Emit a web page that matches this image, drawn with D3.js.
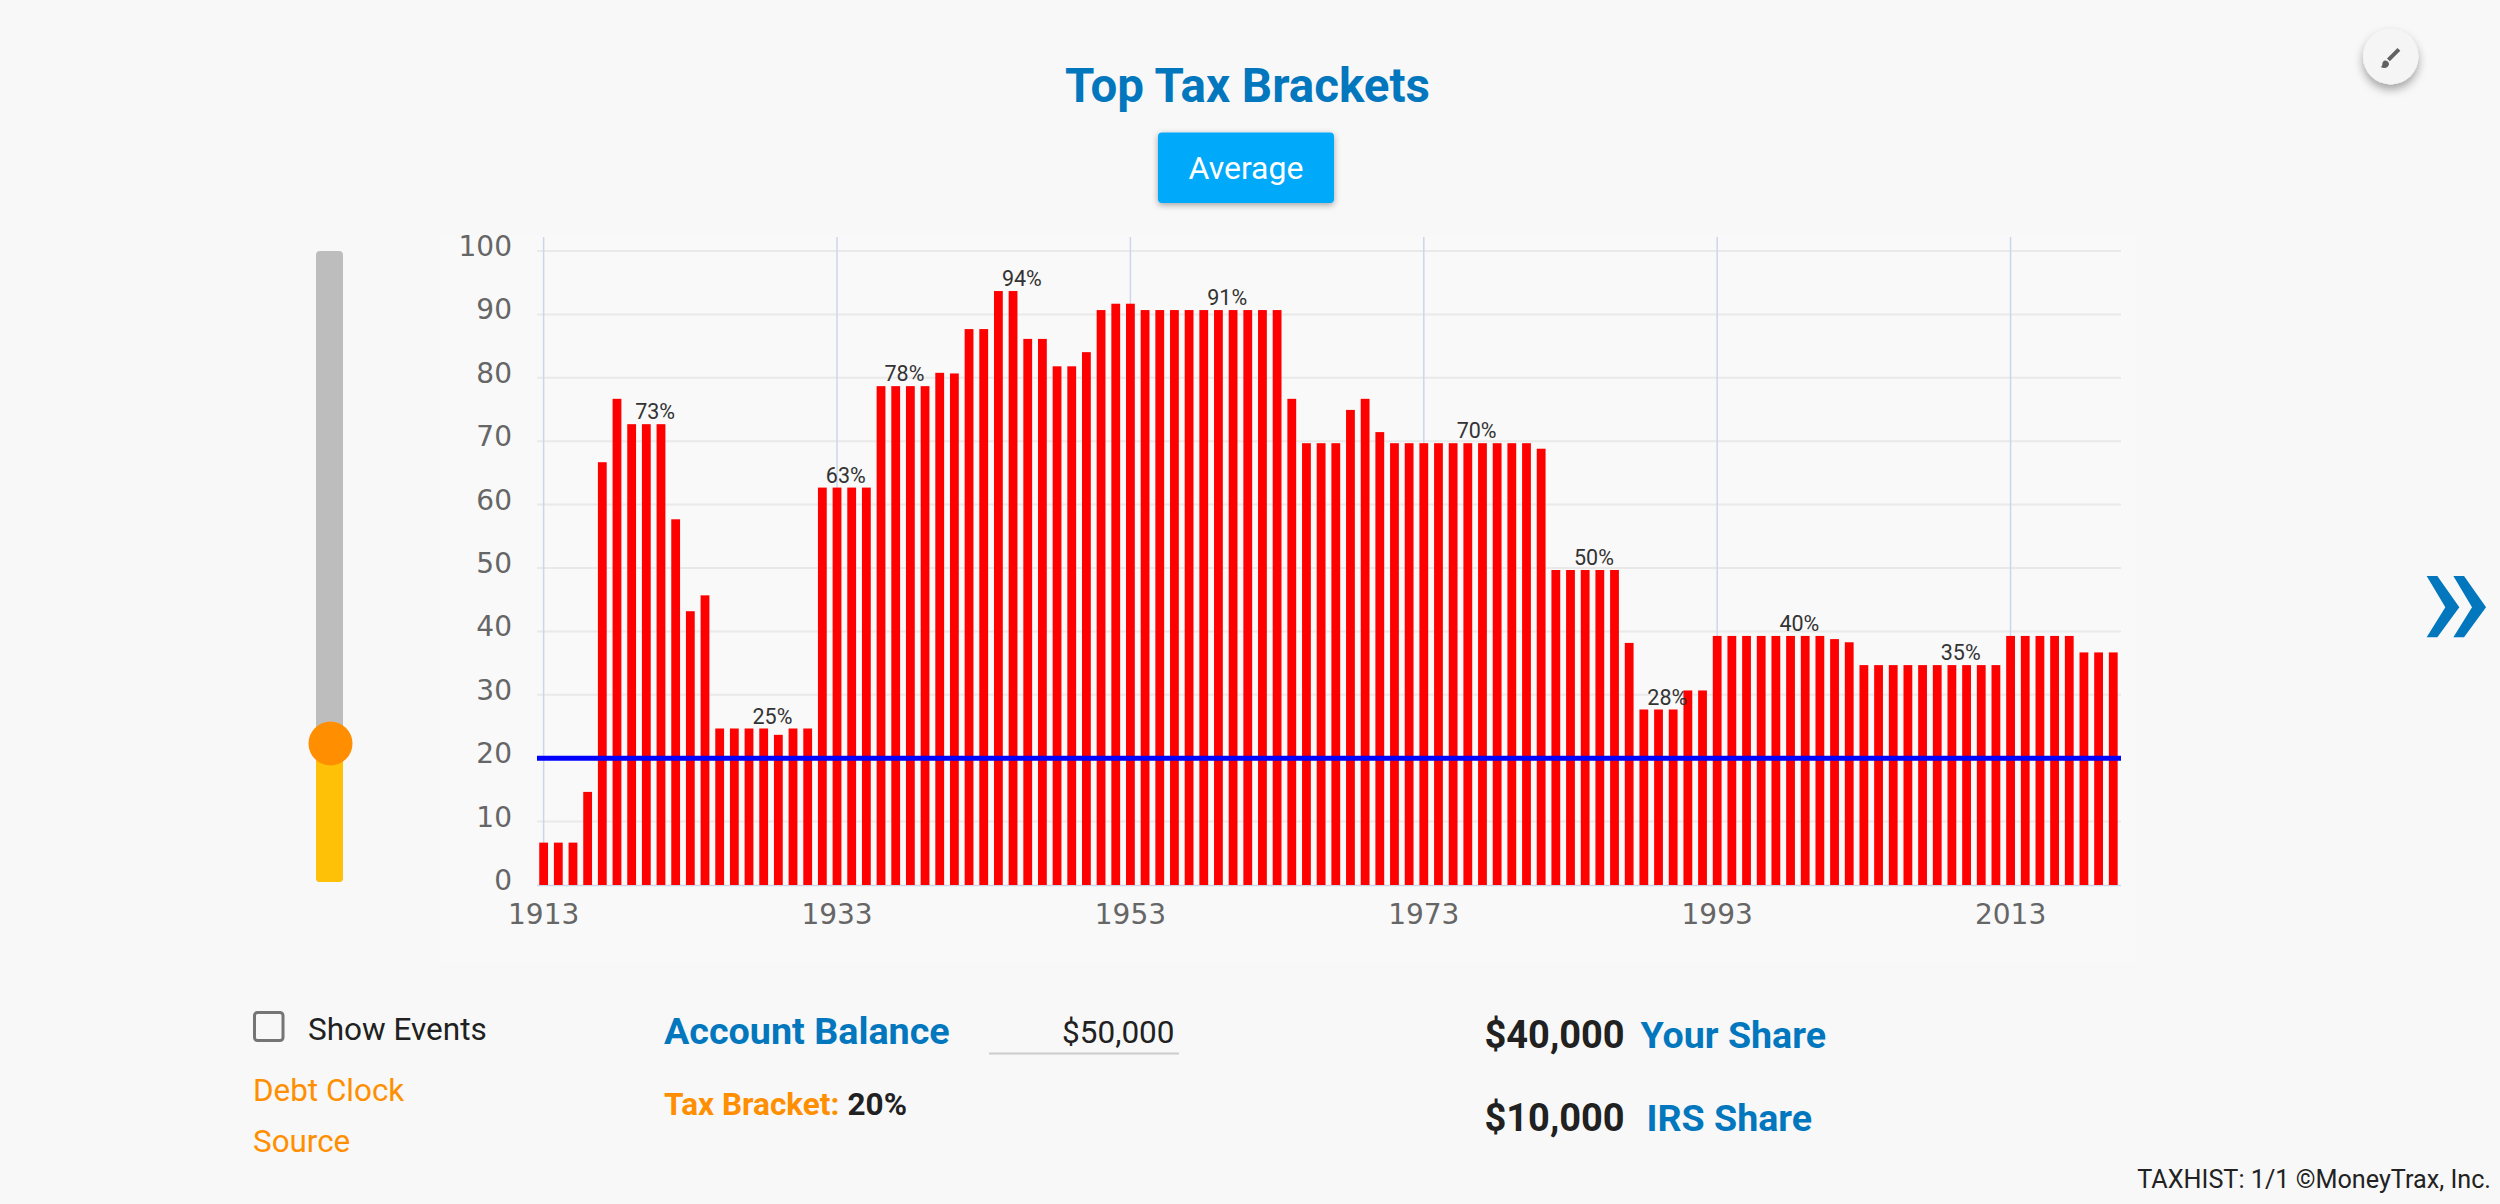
<!DOCTYPE html>
<html><head><meta charset="utf-8">
<script src="https://cdnjs.cloudflare.com/ajax/libs/d3/7.8.5/d3.min.js"></script>
<style>
html,body{margin:0;padding:0;background:#f8f8f8;width:2500px;height:1204px;overflow:hidden}
svg{display:block}
text{font-family:Roboto,sans-serif}
</style></head><body>
<svg id="c" width="2500" height="1204"></svg>
<script>
const firstYear = 1913;
const rates = [7,7,7,15,67,77,73,73,73,58,43.5,46,25,25,25,25,24,25,25,63,63,63,63,79,79,79,79,81.1,81,88,88,94,94,86.45,86.45,82.13,82.13,84.36,91,92,92,91,91,91,91,91,91,91,91,91,91,77,70,70,70,75.25,77,71.75,70,70,70,70,70,70,70,70,70,70,69.13,50,50,50,50,50,38.5,28,28,28,31,31,39.6,39.6,39.6,39.6,39.6,39.6,39.6,39.6,39.1,38.6,35,35,35,35,35,35,35,35,35,35,39.6,39.6,39.6,39.6,39.6,37,37,37];
const years = rates.map((_, i) => firstYear + i);
const labelYears = [1920,1928,1933,1937,1945,1959,1976,1984,1989,1998,2009];
const labelTexts = ["73%","25%","63%","78%","94%","91%","70%","50%","28%","40%","35%"];
const labelRates = [73,25,63,79,94,91,70,50,28,39.6,35];
const xTicks = [1913,1933,1953,1973,1993,2013];
const yTicks = [0,10,20,30,40,50,60,70,80,90,100];
const average = 20;
const accountBalance = "$50,000";
const yourShare = "$40,000";
const irsShare = "$10,000";

const BLUE="#0277bd", ORANGE="#ff8f00", DARK="#212121";
const svg = d3.select("#c");
const x = d3.scaleBand().domain(years).range([536.3,2120.6]).paddingInner(0.4).paddingOuter(0.2);
const y = d3.scaleLinear().domain([0,100]).range([885,251]);
const yBar = d3.scaleLinear().domain([0,100]).range([887,253]);
const cx = v => x(v) + x.bandwidth()/2;

// panel
svg.append("rect").attr("x",440).attr("y",236).attr("width",1695).attr("height",726).attr("fill","#f9f9f9");

// grid
svg.append("g").selectAll("line").data(yTicks.filter(d=>d>0)).join("line")
  .attr("x1",537).attr("x2",2121).attr("y1",d=>y(d)).attr("y2",d=>y(d)).attr("stroke","#e9e9e9").attr("stroke-width",2);
svg.append("g").selectAll("line").data(xTicks).join("line")
  .attr("x1",cx).attr("x2",cx).attr("y1",237).attr("y2",885).attr("stroke","#ccd6eb").attr("stroke-width",1.5);
svg.append("line").attr("x1",537).attr("x2",2121).attr("y1",885.5).attr("y2",885.5).attr("stroke","#ccd6eb").attr("stroke-width",1.5);

// bars
svg.append("g").selectAll("rect").data(rates).join("rect")
  .attr("x",(d,i)=>x(years[i])).attr("width",x.bandwidth())
  .attr("y",d=>yBar(d)).attr("height",d=>y(0)-yBar(d)).attr("fill","#ff0000");

// labels
svg.append("g").selectAll("text").data(labelYears).join("text")
  .attr("x",d=>cx(d)+0.6*x.step()).attr("y",(d,i)=>yBar(labelRates[i])-4.8)
  .attr("text-anchor","middle").attr("font-size",21.5).attr("fill","#333")
  .text((d,i)=>labelTexts[i]);

// average line
svg.append("line").attr("x1",537).attr("x2",2121).attr("y1",y(average)).attr("y2",y(average)).attr("stroke","#0000ff").attr("stroke-width",5);

// axes tick labels
svg.append("g").selectAll("text").data(yTicks).join("text")
  .attr("x",512).attr("y",d=>y(d)+5).attr("text-anchor","end")
  .attr("font-size",28).attr("fill","#666").style("font-family","'DejaVu Sans'").text(d=>d);
svg.append("g").selectAll("text").data(xTicks).join("text")
  .attr("x",cx).attr("y",924).attr("text-anchor","middle")
  .attr("font-size",28).attr("fill","#666").style("font-family","'DejaVu Sans'").text(d=>d);

// slider
const sy = d3.scaleLinear().domain([0,100]).range([882,251]);
svg.append("rect").attr("x",316).attr("y",251).attr("width",27).attr("height",631).attr("rx",4).attr("fill","#bdbdbd");
svg.append("rect").attr("x",316).attr("y",sy(22)).attr("width",27).attr("height",882-sy(22)).attr("rx",4).attr("fill","#ffc107");
svg.append("circle").attr("cx",330.5).attr("cy",743.5).attr("r",22).attr("fill",ORANGE);

// header
const defs = svg.append("defs");
const f1 = defs.append("filter").attr("id","s1").attr("x","-30%").attr("y","-30%").attr("width","160%").attr("height","170%");
f1.append("feDropShadow").attr("dx",0).attr("dy",2).attr("stdDeviation",3).attr("flood-color","#000").attr("flood-opacity",0.35);
const f2 = defs.append("filter").attr("id","s2").attr("x","-50%").attr("y","-50%").attr("width","200%").attr("height","220%");
f2.append("feDropShadow").attr("dx",0).attr("dy",5).attr("stdDeviation",5).attr("flood-color","#000").attr("flood-opacity",0.35);

const T=(s,xp,yp,size,fill,weight,anchor)=>svg.append("text").attr("x",xp).attr("y",yp).attr("font-size",size).attr("fill",fill).attr("font-weight",weight||400).attr("text-anchor",anchor||"start").text(s);
T("Top Tax Brackets",1247.5,101.7,47.5,BLUE,700,"middle");
svg.append("rect").attr("x",1158).attr("y",132.5).attr("width",176).attr("height",70.5).attr("rx",4).attr("fill","#03a9f9").attr("filter","url(#s1)");
T("Average",1246,179,32,"#fff",400,"middle");

// brush button
svg.append("circle").attr("cx",2390.7).attr("cy",56.7).attr("r",27.7).attr("fill","#f5f5f5").attr("filter","url(#s2)");
svg.append("path").attr("d","M2397.5 48l2.8 2.8l-10.5 10.5l-2.8 -2.8z").attr("fill","#616161");
svg.append("path").attr("d","M2385 60.5c2.2 0 4 1.8 4 3.6c0 2.4 -2.2 3.9 -4.5 3.9c-1.5 0 -2.7 -.3 -3.7 -1c1.2 -.7 1.5 -1.4 1.5 -2.7c0 -2 1.2 -3.8 2.7 -3.8z").attr("fill","#616161");

// chevrons
[0,26.7].forEach(dx=>{
  const p=[[80,48],[112,48],[178,142],[112,232],[80,232],[136,142]].map(q=>[2400+dx+q[0]/3,560+q[1]/3]);
  svg.append("path").attr("d",d3.line()(p)+"Z").attr("fill",BLUE);
});

// bottom
svg.append("rect").attr("x",254.5).attr("y",1012.5).attr("width",28.5).attr("height",28).attr("rx",3).attr("fill","none").attr("stroke","#757575").attr("stroke-width",3);
T("Show Events",308,1040,31.5,DARK);
T("Debt Clock",253,1101,31.4,ORANGE);
T("Source",253,1151.5,31.4,ORANGE);
T("Account Balance",664,1044,37.7,BLUE,700);
svg.append("line").attr("x1",989).attr("x2",1179).attr("y1",1053.5).attr("y2",1053.5).attr("stroke","#ccc").attr("stroke-width",2);
T(accountBalance,1174.5,1042.5,31.5,DARK,400,"end");
T("Tax Bracket:",664,1115,31.5,ORANGE,700);
T(average+"%",847.5,1115,31.5,DARK,700);
T(yourShare,1484.5,1048,38,DARK,700);
T("Your Share",1640.5,1047.5,37.6,BLUE,700);
T(irsShare,1484.5,1131.2,38,DARK,700);
T("IRS Share",1646.5,1130.7,37.6,BLUE,700);
T("TAXHIST: 1/1 ©MoneyTrax, Inc.",2491,1188,25.2,"#222",400,"end");
</script></body></html>
